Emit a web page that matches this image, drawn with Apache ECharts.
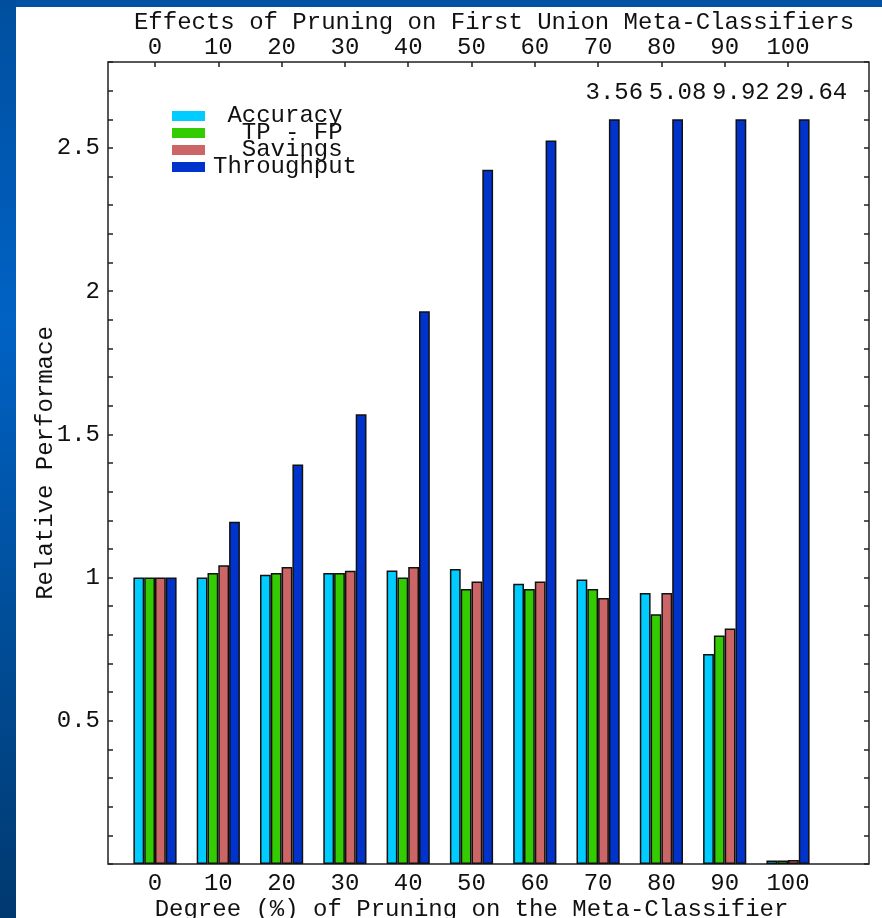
<!DOCTYPE html>
<html>
<head>
<meta charset="utf-8">
<script src="https://cdn.jsdelivr.net/npm/echarts@6/dist/echarts.min.js"></script>
<style>
html,body{margin:0;padding:0;background:#fff;}
#chart{width:882px;height:918px;}
</style>
</head>
<body>
<div id="chart"></div>
<script>
const categories = ['0','10','20','30','40','50','60','70','80','90','100'];
const accuracy   = [1.00, 1.00, 1.01, 1.016, 1.025, 1.03, 0.978, 0.993, 0.946, 0.733, 0.012];
const tpFp       = [1.00, 1.016, 1.016, 1.016, 1.00, 0.96, 0.96, 0.96, 0.872, 0.798, 0.012];
const savings    = [1.00, 1.043, 1.037, 1.024, 1.037, 0.986, 0.986, 0.929, 0.946, 0.822, 0.014];
const throughput = [1.00, 1.195, 1.395, 1.57, 1.93, 2.424, 2.526, 3.56, 5.08, 9.92, 29.64];
const displayCap = 2.6;
const yLabelValues = [0.5, 1, 1.5, 2, 2.5];
const seriesNames = ['Accuracy', 'TP - FP', 'Savings', 'Throughput'];
const colors = ['#00CCFF', '#33CC00', '#CC6666', '#0033CC'];

const FONT = "'Liberation Mono', 'DejaVu Sans Mono', monospace";
const FS = 24;
const TXT = '#111';

const chart = echarts.init(document.getElementById('chart'), null, {renderer: 'canvas'});

function barSeries(name, values, color, extra) {
  return Object.assign({
    type: 'bar',
    name: name,
    xAxisIndex: 1,
    yAxisIndex: 2,
    barWidth: 10.8,
    barGap: '0%',
    data: values.map(v => Math.min(v, displayCap)),
    itemStyle: {color: color, borderColor: '#111', borderWidth: 1.5},
    emphasis: {disabled: true},
    animation: false
  }, extra || {});
}

const legends = seriesNames.map((n, i) => ({
  data: [n],
  orient: 'vertical',
  left: 172,
  top: 104 + 17 * i,
  padding: 0,
  itemGap: 0,
  itemWidth: 33,
  itemHeight: 10,
  icon: 'rect',
  selectedMode: false,
  itemStyle: {borderWidth: 0},
  formatter: name => ' '.repeat(Math.round((10 - name.length) / 2)) + name,
  textStyle: {fontFamily: FONT, fontSize: FS, color: TXT, lineHeight: 24, padding: [0, 0, 0, 3]}
}));

const option = {
  animation: false,
  backgroundColor: '#fff',
  textStyle: {fontFamily: FONT},
  graphic: [
    {type: 'rect', shape: {x: 0, y: 0, width: 882, height: 7}, style: {fill: '#0052A2'}, z: 100},
    {type: 'rect', shape: {x: 0, y: 0, width: 16, height: 918}, z: 100,
     style: {fill: new echarts.graphic.LinearGradient(0, 0, 0, 1, [
       {offset: 0, color: '#004F9F'},
       {offset: 0.35, color: '#0062C4'},
       {offset: 1, color: '#00396F'}
     ])}}
  ],
  title: {
    text: 'Effects of Pruning on First Union Meta-Classifiers',
    left: 489,
    top: 6,
    textAlign: 'center',
    textStyle: {fontFamily: FONT, fontSize: FS, fontWeight: 'normal', color: TXT}
  },
  legend: legends,
  grid: [
    {left: 108, right: 13, top: 62, bottom: 54, show: true, backgroundColor: '#fff', borderColor: '#222', borderWidth: 1.5, outerBoundsMode: 'none', containLabel: false},
    {left: 123.35, right: 62.35, top: 62, bottom: 54, outerBoundsMode: 'none', containLabel: false}
  ],
  xAxis: [
    {type: 'value', gridIndex: 0, show: false, min: 0, max: 1},
    {type: 'category', gridIndex: 1, position: 'bottom', data: categories,
     axisLine: {show: false}, axisTick: {show: false},
     axisLabel: {fontFamily: FONT, fontSize: FS, color: TXT, margin: 8},
     name: 'Degree (%) of Pruning on the Meta-Classifier', nameLocation: 'middle', nameGap: 34,
     nameMoveOverlap: false,
     nameTextStyle: {fontFamily: FONT, fontSize: FS, color: TXT}},
    {type: 'category', gridIndex: 1, position: 'top', data: categories,
     axisLine: {show: false},
     axisTick: {show: true, inside: true, alignWithLabel: true, length: 5, lineStyle: {color: '#222', width: 1.5}},
     axisLabel: {fontFamily: FONT, fontSize: FS, color: TXT, margin: 2}}
  ],
  yAxis: [
    {type: 'value', gridIndex: 0, position: 'left', min: 0, max: 2.8, interval: 0.1,
     splitLine: {show: false}, axisLine: {show: false},
     axisTick: {show: true, inside: true, length: 5, lineStyle: {color: '#222', width: 1.5}},
     axisLabel: {fontFamily: FONT, fontSize: FS, color: TXT, margin: 8,
       formatter: v => {
         const r = Math.round(v * 10) / 10;
         return yLabelValues.some(t => Math.abs(t - r) < 1e-6) ? String(r) : '';
       }},
     name: 'Relative Performace', nameLocation: 'middle', nameGap: 50, nameRotate: 90,
     nameMoveOverlap: false,
     nameTextStyle: {fontFamily: FONT, fontSize: FS, color: TXT}},
    {type: 'value', gridIndex: 0, position: 'right', min: 0, max: 2.8, interval: 0.1,
     splitLine: {show: false}, axisLine: {show: false},
     axisTick: {show: true, inside: true, length: 5, lineStyle: {color: '#222', width: 1.5}},
     axisLabel: {show: false}},
    {type: 'value', gridIndex: 1, min: 0, max: 2.8, show: false}
  ],
  series: [
    barSeries(seriesNames[0], accuracy, colors[0]),
    barSeries(seriesNames[1], tpFp, colors[1]),
    barSeries(seriesNames[2], savings, colors[2]),
    barSeries(seriesNames[3], throughput, colors[3], {
      label: {
        show: true, position: 'top', distance: 15,
        fontFamily: FONT, fontSize: FS, color: TXT,
        formatter: p => throughput[p.dataIndex] > displayCap ? String(throughput[p.dataIndex]) : ''
      },
      labelLayout: p => (p.dataIndex === throughput.length - 1 ? {dx: 7} : {})
    })
  ]
};
chart.setOption(option);
</script>
</body>
</html>
